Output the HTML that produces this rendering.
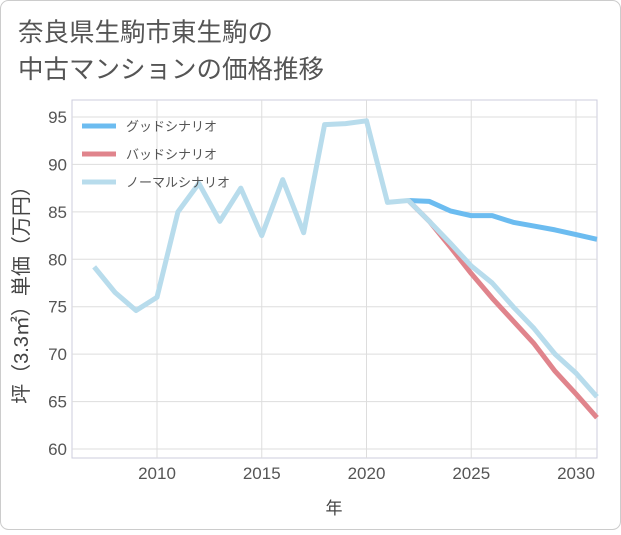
<!DOCTYPE html>
<html><head><meta charset="utf-8"><style>
body{margin:0;background:#fff;}
svg text{font-family:"Liberation Sans","Noto Sans CJK JP",sans-serif;}
</style></head><body>
<svg width="621" height="530" viewBox="0 0 621 530">
<rect x="0.5" y="0.5" width="620" height="529" rx="8" fill="#fff" stroke="#ccc"/>
<text x="18" y="41" font-size="25.5" fill="#555">奈良県生駒市東生駒の</text>
<text x="18" y="78" font-size="25.5" fill="#555">中古マンションの価格推移</text>
<g id="grid"></g>
<g id="axes"></g>
<g id="series"></g>
<g id="legend"></g>
<text x="334" y="514" font-size="17" fill="#444" text-anchor="middle">年</text>
<text transform="translate(28,290) rotate(-90)" font-size="20" fill="#444" text-anchor="middle">坪（3.3㎡）単価（万円）</text>
</svg>
<script>
const years=[2007,2008,2009,2010,2011,2012,2013,2014,2015,2016,2017,2018,2019,2020,2021,2022,2023,2024,2025,2026,2027,2028,2029,2030,2031];
const normal=[79.2,76.5,74.6,76,85,88,84,87.5,82.5,88.4,82.8,94.2,94.3,94.6,86,86.2,84,81.7,79.3,77.5,75,72.7,70,68,65.5];
const futureYears=[2022,2023,2024,2025,2026,2027,2028,2029,2030,2031];
const good=[86.2,86.1,85.1,84.6,84.6,83.9,83.5,83.1,82.6,82.1];
const bad=[86.2,84,81.3,78.5,75.9,73.5,71.1,68.2,65.8,63.3];
const xTicks=[2010,2015,2020,2025,2030];
const yTicks=[60,65,70,75,80,85,90,95];
const legendLabels=["グッドシナリオ","バッドシナリオ","ノーマルシナリオ"];
const colors=["#6cbcf0","#e0848c","#b8dcec"];
const NS="http://www.w3.org/2000/svg";
const L=72,R=597,T=100,B=458;
const X=y=>157+(y-2010)*(576-157)/20;
const Y=v=>449-(v-60)*(449-117)/35;
function mk(tag,attrs,parent){const e=document.createElementNS(NS,tag);for(const k in attrs)e.setAttribute(k,attrs[k]);parent.appendChild(e);return e;}
const grid=document.getElementById('grid'),axes=document.getElementById('axes'),ser=document.getElementById('series'),leg=document.getElementById('legend');
mk('rect',{x:L,y:T,width:R-L,height:B-T,fill:'none',stroke:'#ccd'},grid);
yTicks.forEach(v=>{const l=mk('line',{x1:L,x2:R,y1:Y(v),y2:Y(v),stroke:'#ddd'},grid);

const t=mk('text',{x:L-5,y:Y(v)+6,'font-size':17,fill:'#555','text-anchor':'end'},axes);t.textContent=v;
});
xTicks.forEach(v=>{const l=mk('line',{x1:X(v),x2:X(v),y1:T,y2:B,stroke:'#ddd'},grid);

const t=mk('text',{x:X(v),y:B+21,'font-size':17,fill:'#555','text-anchor':'middle'},axes);t.textContent=v;
});
function line(xs,vs,c,name){const p=mk('polyline',{points:xs.map((y,i)=>X(y)+','+Y(vs[i])).join(' '),fill:'none',stroke:c,'stroke-width':5,'stroke-linejoin':'round'},ser);
}
line(futureYears,good,colors[0],'good-scenario-line');
line(futureYears,bad,colors[1],'bad-scenario-line');
line(years,normal,colors[2],'normal-scenario-line');
legendLabels.forEach((s,i)=>{const y=126+i*28;
const l=mk('line',{x1:82,x2:116,y1:y,y2:y,stroke:colors[i],'stroke-width':5},leg);

const t=mk('text',{x:126,y:y+5,'font-size':13,fill:'#555'},leg);t.textContent=s;
});
</script>
</body></html>
